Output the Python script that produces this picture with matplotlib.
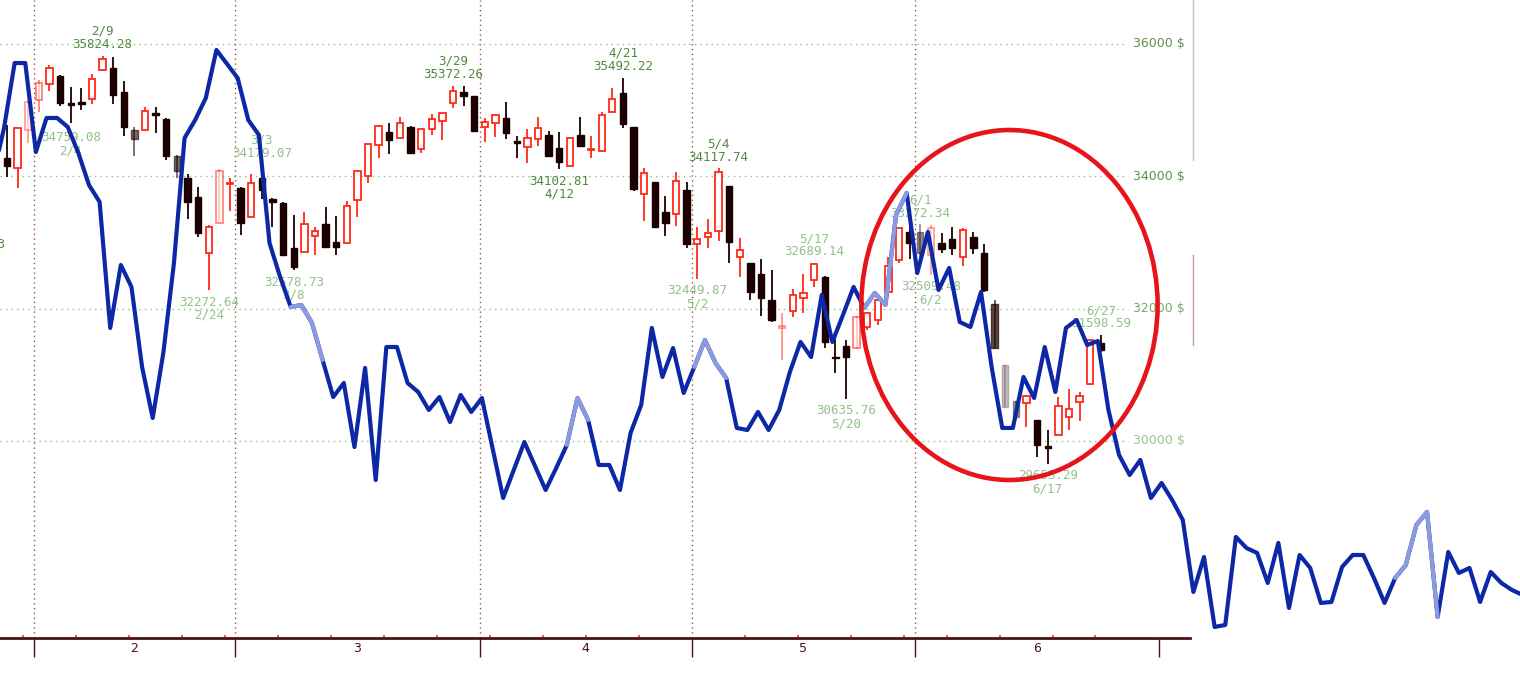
import numpy as np
import pandas as pd
import matplotlib
matplotlib.use("Agg")
import matplotlib.pyplot as plt
from matplotlib.patches import Rectangle, Ellipse
from matplotlib.lines import Line2D

# trading days shown (NYSE holidays skipped)
holidays = ["2022-02-21", "2022-04-15", "2022-05-30", "2022-06-20"]
dates = pd.bdate_range("2022-01-27", "2022-06-27", freq="C", holidays=holidays)

opens = [34276, 34125, 34699, 35153, 35395, 35516, 35108, 35123, 35168, 35607,
         35637, 35274, 34699, 34699, 34956, 34866, 34306, 33974, 33686, 32840,
         33293, 33883, 33822, 33384, 33974, 33656, 33596, 32915, 32855, 33097,
         33278, 33006, 32991, 33641, 34004, 34473, 34669, 34578, 34745, 34412,
         34715, 34836, 35108, 35274, 35213, 34745, 34805, 34881, 34533, 34442,
         34563, 34624, 34427, 34155, 34624, 34397, 34382, 34972, 35259, 34745,
         33732, 33913, 33459, 33429, 33792, 32976, 33082, 33172, 33853, 32779,
         32689, 32522, 32129, 31706, 31963, 32159, 32431, 32477, 31267, 31434,
         31403, 31721, 31827, 32250, 32734, 33157, 33157, 32809, 32991, 33051,
         32779, 33082, 32840, 32068, 31146, 30602, 30572, 30315, 29921, 30088,
         30360, 30587, 30859, 31479]
highs = [34775, 34730, 35153, 35455, 35682, 35531, 35350, 35334, 35546, 35824,
         35803, 35440, 34745, 35047, 35047, 34881, 34321, 34034, 33838, 33263,
         34110, 33974, 33838, 34034, 34000, 33670, 33610, 33414, 33459, 33233,
         33535, 33399, 33626, 34090, 34500, 34770, 34805, 34896, 34755, 34720,
         34941, 34960, 35372, 35370, 35220, 34881, 34926, 35123, 34609, 34715,
         34896, 34684, 34669, 34594, 34896, 34609, 34972, 35334, 35492, 34750,
         34125, 33920, 33701, 34064, 33913, 33233, 33354, 34118, 33860, 33066,
         32695, 32749, 32583, 31932, 32295, 32522, 32689, 32485, 31630, 31524,
         31880, 31940, 32174, 32779, 33225, 33248, 33272, 33263, 33142, 33233,
         33218, 33157, 32976, 32129, 31150, 30606, 30690, 30320, 30163, 30662,
         30783, 30737, 31530, 31599]
lows = [33989, 33822, 34503, 34972, 35289, 35062, 34805, 35002, 35093, 35592,
        35093, 34609, 34306, 34699, 34654, 34246, 33974, 33354, 33082, 32273,
        33293, 33475, 33112, 33384, 33656, 33233, 32809, 32579, 32850, 32809,
        32915, 32809, 32985, 33384, 33898, 34276, 34337, 34570, 34345, 34352,
        34624, 34548, 35032, 35062, 34670, 34518, 34594, 34563, 34276, 34200,
        34457, 34291, 34103, 34150, 34442, 34276, 34375, 34965, 34730, 33777,
        33323, 33233, 33097, 33248, 32915, 32450, 32915, 33021, 32689, 32477,
        32129, 31887, 31796, 31222, 31872, 31932, 32326, 31403, 31025, 30636,
        31395, 31675, 31751, 32245, 32689, 32749, 32734, 32509, 32840, 32809,
        32643, 32825, 32250, 31403, 30511, 30360, 30209, 29755, 29653, 30080,
        30163, 30300, 30850, 31343]
closes = [34155, 34730, 35123, 35410, 35637, 35108, 35077, 35093, 35471, 35773,
          35229, 34745, 34563, 34987, 34926, 34306, 34079, 33611, 33142, 33233,
          34079, 33898, 33293, 33898, 33792, 33611, 32815, 32630, 33278, 33172,
          32930, 32930, 33550, 34079, 34488, 34760, 34548, 34805, 34352, 34715,
          34866, 34956, 35289, 35213, 34678, 34820, 34920, 34654, 34503, 34578,
          34730, 34306, 34216, 34578, 34450, 34412, 34926, 35168, 34790, 33807,
          34049, 33240, 33293, 33928, 32976, 33051, 33142, 34064, 33006, 32885,
          32250, 32159, 31827, 31736, 32205, 32235, 32673, 31494, 31252, 31267,
          31872, 31932, 32129, 32643, 33218, 32991, 32840, 33218, 32900, 32915,
          33187, 32915, 32280, 31410, 30516, 30364, 30677, 29937, 29891, 30526,
          30481, 30677, 31524, 31373]

# candles that look washed out in the screenshot
faded = {2: 0.45, 3: 0.6, 12: 0.6, 16: 0.6, 20: 0.55, 73: 0.5, 80: 0.6,
         86: 0.45, 87: 0.45, 93: 0.7, 94: 0.25, 95: 0.4}

# high / low marks written on the chart
mark_dates = ["2022-01-24", "2022-02-04", "2022-02-09", "2022-02-24", "2022-03-03",
              "2022-03-08", "2022-03-29", "2022-04-12", "2022-04-21", "2022-05-02",
              "2022-05-04", "2022-05-17", "2022-05-20", "2022-06-01", "2022-06-02",
              "2022-06-17", "2022-06-27"]
mark_values = ["33150.33", "34759.08", "35824.28", "32272.64", "34179.07",
               "32578.73", "35372.26", "34102.81", "35492.22", "32449.87",
               "34117.74", "32689.14", "30635.76", "33272.34", "32509.48",
               "29653.29", "31598.59"]
mark_kind = ["low", "low", "high", "low", "high", "low", "high", "low", "high", "low",
             "high", "high", "low", "high", "low", "low", "high"]
mark_dark = [True, False, True, False, False, False, True, True, True, False,
             True, False, False, False, False, False, False]

# overlaid blue series (same day spacing, drawn past the price panel)
blue = [34019, 34730, 35712, 35712, 34367, 34881, 34881, 34745, 34352, 33868,
        33611, 31706, 32658, 32326, 31116, 30345, 31328, 32688, 34578, 34851,
        35183, 35909, 35697, 35486, 34851, 34624, 32991, 32477, 32023, 32053,
        31781, 31222, 30662, 30874, 29906, 31101, 29407, 31418, 31418, 30874,
        30738, 30466, 30662, 30284, 30693, 30436, 30647, 29891, 29135, 29559,
        29982, 29619, 29256, 29589, 29937, 30647, 30315, 29634, 29634, 29256,
        30118, 30541, 31706, 30965, 31403, 30723, 31116, 31524, 31176, 30950,
        30194, 30163, 30436, 30163, 30466, 31040, 31494, 31267, 32205, 31494,
        31902, 32326, 32008, 32235, 32053, 33414, 33747, 32537, 33157, 32280,
        32613, 31796, 31721, 32250, 31116, 30194, 30194, 30965, 30647, 31418,
        30738, 31706, 31827, 31449, 31509, 30466, 29785, 29483, 29710, 29135,
        29362, 29105, 28803, 27714, 28243, 27185, 27215, 28546, 28379, 28304,
        27850, 28455, 27472, 28273, 28077, 27548, 27563, 28092, 28273, 28273,
        27926, 27548, 27926, 28122, 28727, 28924, 27336, 28319, 28001, 28077,
        27563, 28016, 27850, 27744, 27669]
blue_faded = [(27, 30), (53, 55), (65, 68), (81, 85), (131, 135)]

grid_levels = [36000, 34000, 32000, 30000]
grid_label_colors = ["#5e9050", "#5e9050", "#78a868", "#9cc290"]

UP = "#ff2a1a"
DOWN = "#1c0000"
DARK_GREEN = "#4f8a3f"
LIGHT_GREEN = "#93c08a"
AXIS = "#4a1212"

fig = plt.figure(figsize=(15.2, 6.75), dpi=100)
ax = fig.add_axes([0, 37 / 675, 1190 / 1520, 638 / 675])
ax.set_xlim(-0.66, 111.4)
ax.set_ylim(27018, 36665)
for s in ["top", "right", "left"]:
    ax.spines[s].set_visible(False)
ax.spines["bottom"].set_color(AXIS)
ax.spines["bottom"].set_linewidth(2)
ax.set_yticks([])

# price grid + labels
for lev, col in zip(grid_levels, grid_label_colors):
    ax.axhline(lev, xmax=0.948, color="#8cc080", ls=(0, (1, 3)), lw=1, zorder=1)
    ax.text(0.996, lev, f"{lev} $", transform=ax.get_yaxis_transform(), ha="right",
            va="center", color=col, fontsize=9, family="DejaVu Sans")

# month and week boundaries
month_bounds = [i - 0.5 for i in range(1, len(dates)) if dates[i].month != dates[i - 1].month]
week_bounds = [i - 0.5 for i in range(1, len(dates)) if dates[i].weekday() < dates[i - 1].weekday()]
month_nums = [dates[int(b + 0.5)].month for b in month_bounds]
end_tick = 108.5

for b in month_bounds:
    ax.axvline(b, color="#a05050", ls=(0, (1, 2.5)), lw=1, zorder=1)

ax.set_xticks(month_bounds + [end_tick])
ax.set_xticklabels([])
ax.set_xticks(week_bounds, minor=True)
ax.tick_params(axis="x", which="major", direction="out", length=13.5, width=1, color=AXIS)
ax.tick_params(axis="x", which="minor", direction="in", length=2.5, width=1.2, color="#ff3a2a")

edges = month_bounds + [end_tick]
for m, a, b in zip(month_nums, edges[:-1], edges[1:]):
    ax.text((a + b) / 2, -0.016, str(m), transform=ax.get_xaxis_transform(),
            ha="center", va="center", color=AXIS, fontsize=9, family="DejaVu Sans")

# candles
w = 0.6
for i in range(len(dates)):
    o, h, l, c = opens[i], highs[i], lows[i], closes[i]
    a = faded.get(i, 1.0)
    up = c >= o
    col = UP if up else DOWN
    ax.vlines(i, l, h, color=col, lw=1.3, alpha=a, zorder=2)
    lo, hi = min(o, c), max(o, c)
    if hi - lo < 20:
        lo, hi = (lo + hi) / 2 - 10, (lo + hi) / 2 + 10
    if up:
        ax.add_patch(Rectangle((i - w / 2, lo), w, hi - lo, facecolor="white",
                               edgecolor=col, lw=1.3, alpha=a, zorder=3))
    else:
        ax.add_patch(Rectangle((i - w / 2, lo), w, hi - lo, facecolor=col,
                               edgecolor=col, lw=1, alpha=a, zorder=3))

# high / low annotations
for d, val, kind, dark in zip(mark_dates, mark_values, mark_kind, mark_dark):
    x = np.busday_count("2022-01-27", d, holidays=holidays)
    ts = pd.Timestamp(d)
    dtxt = f"{ts.month}/{ts.day}"
    col = DARK_GREEN if dark else LIGHT_GREEN
    if kind == "high":
        offs = [(val, 8), (dtxt, 17.5)]
    else:
        offs = [(val, -8.5), (dtxt, -18)]
    if x < 0:
        # only the tail of the price is inside the picture
        offs = offs[:1]
    for txt, dy in offs:
        ax.annotate(txt, (x, float(val)), xytext=(0, dy), textcoords="offset points",
                    ha="center", va="center", color=col, fontsize=9,
                    family="DejaVu Sans Mono", zorder=3.5, annotation_clip=False)

# blue overlay line
kb = np.arange(-1, -1 + len(blue)) - 0.28
blue = np.array(blue)
ax.plot(kb, blue, color="#0d28a6", lw=3.0, solid_joinstyle="round",
        solid_capstyle="round", clip_on=False, zorder=4)
for a, b in blue_faded:
    sl = slice(a + 1, b + 2)
    ax.plot(kb[sl], blue[sl], color="#8c9be0", lw=3.0, solid_joinstyle="round",
            solid_capstyle="round", clip_on=False, zorder=4.1)

# red circle marking the June slide
ax.add_patch(Ellipse((94.4, 32053), 27.9, 5292, fill=False, edgecolor="#e8141c",
                     lw=3.3, zorder=6, clip_on=False))

# right border pieces of the panel
xr = 1193 / 1520
fig.add_artist(Line2D([xr, xr], [1, 1 - 160 / 675], color="#c0c0cc", lw=1))
fig.add_artist(Line2D([xr, xr], [1 - 255 / 675, 1 - 345 / 675], color="#c49a9a", lw=1))

fig.savefig("out.png", dpi=100)
